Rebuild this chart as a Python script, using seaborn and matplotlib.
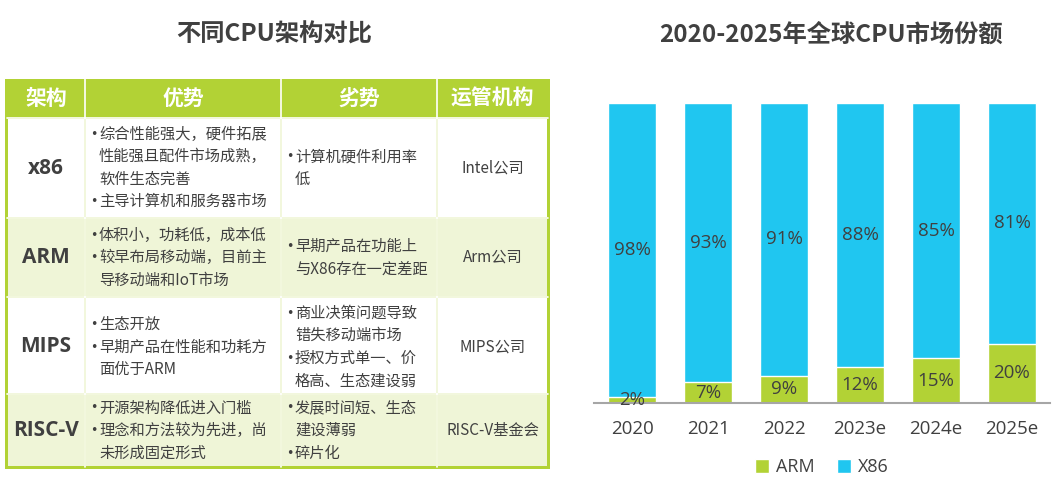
import matplotlib
matplotlib.use("Agg")
import matplotlib.pyplot as plt
from matplotlib.patches import Rectangle, Patch
import seaborn as sns
import pandas as pd

# data
years = ["2020", "2021", "2022", "2023e", "2024e", "2025e"]
arm = [2, 7, 9, 12, 15, 20]
x86 = [98, 93, 91, 88, 85, 81]

headers = ["架构", "优势", "劣势", "运管机构"]
archs = ["x86", "ARM", "MIPS", "RISC-V"]
pros = [
    [["综合性能强大，硬件拓展", "性能强且配件市场成熟，", "软件生态完善"], ["主导计算机和服务器市场"]],
    [["体积小，功耗低，成本低"], ["较早布局移动端，目前主", "导移动端和IoT市场"]],
    [["生态开放"], ["早期产品在性能和功耗方", "面优于ARM"]],
    [["开源架构降低进入门槛"], ["理念和方法较为先进，尚", "未形成固定形式"]],
]
cons = [
    [["计算机硬件利用率", "低"]],
    [["早期产品在功能上", "与X86存在一定差距"]],
    [["商业决策问题导致", "错失移动端市场"], ["授权方式单一、价", "格高、生态建设弱"]],
    [["发展时间短、生态", "建设薄弱"], ["碎片化"]],
]
orgs = ["Intel公司", "Arm公司", "MIPS公司", "RISC-V基金会"]

GREEN = "#B2D235"
LIGHT = "#EFF5D7"
BLUE = "#20C6F0"
TXT = "#404040"

sns.set_theme(style="white")
plt.rcParams["font.family"] = ["Noto Sans CJK SC", "DejaVu Sans"]
NUM = ["Open Sans", "Noto Sans CJK SC", "DejaVu Sans"]

fig = plt.figure(figsize=(10.58, 4.8), dpi=100)

# ---- left: table drawn in pixel space
ax_t = fig.add_axes([0, 0, 1, 1])
ax_t.set_xlim(0, 1058)
ax_t.set_ylim(480, 0)
ax_t.axis("off")

col_x = [7, 85, 281, 437, 548]
row_y = [79, 118, 218, 297, 394, 467]
lh = 22.5

ax_t.text(274, 35, "不同CPU架构对比", ha="center", va="center", fontsize=17.5,
          fontweight="bold", color=TXT)

# outer frame
ax_t.add_patch(Rectangle((col_x[0] - 2, row_y[0]), col_x[-1] - col_x[0] + 4,
                         row_y[-1] - row_y[0] + 2, facecolor=GREEN, edgecolor="none"))
for r in range(5):
    y0, y1 = row_y[r], row_y[r + 1]
    for c in range(4):
        x0, x1 = col_x[c], col_x[c + 1]
        if r == 0:
            fc = GREEN
        else:
            fc = "white" if r % 2 == 1 else LIGHT
        ax_t.add_patch(Rectangle((x0 + 0.8, y0 + 0.8), x1 - x0 - 1.6, y1 - y0 - 1.6,
                                 facecolor=fc, edgecolor="none"))
# white gaps between cells
for c in range(1, 4):
    ax_t.plot([col_x[c], col_x[c]], [row_y[0], row_y[-1]], color="white", lw=1.2)
for r in range(1, 5):
    ax_t.plot([col_x[0], col_x[-1]], [row_y[r], row_y[r]], color="white", lw=1.2)

for c, h in enumerate(headers):
    ax_t.text((col_x[c] + col_x[c + 1]) / 2, (row_y[0] + row_y[1]) / 2, h,
              ha="center", va="center", fontsize=15, fontweight="bold", color="white")


def bullets(items, x, yc):
    lines = []
    for it in items:
        for k, s in enumerate(it):
            lines.append((k == 0, s))
    n = len(lines)
    y = yc - (n - 1) / 2 * lh
    for first, s in lines:
        if first:
            ax_t.text(x, y, "•", ha="left", va="center", fontsize=9, color=TXT,
                      family=["DejaVu Sans"])
        ax_t.text(x + 9, y, s, ha="left", va="center", fontsize=11, color=TXT)
        y += lh


for r in range(4):
    yc = (row_y[r + 1] + row_y[r + 2]) / 2 + (1.5 if r == 2 else 0)
    ax_t.text((col_x[0] + col_x[1]) / 2, yc, archs[r], ha="center", va="center",
              fontsize=15, fontweight="bold", color=TXT, family=NUM)
    bullets(pros[r], col_x[1] + 5, yc)
    bullets(cons[r], col_x[2] + 5, yc)
    ax_t.text((col_x[3] + col_x[4]) / 2, yc, orgs[r], ha="center", va="center",
              fontsize=11, color=TXT)

ax_t.text(831, 35, "2020-2025年全球CPU市场份额", ha="center", va="center", fontsize=17.5,
          fontweight="bold", color=TXT)

# ---- right: stacked share bars
df = pd.DataFrame({"year": years, "ARM": arm, "X86": x86})
df["total"] = df["ARM"] + df["X86"]
df["arm_s"] = df["ARM"] / df["total"] * 100
df["top"] = 100.0

ax = fig.add_axes([594 / 1058, 77 / 480, 456 / 1058, 300 / 480])
sns.barplot(data=df, x="year", y="top", color=BLUE, saturation=1, width=0.62, ax=ax)
sns.barplot(data=df, x="year", y="arm_s", color=GREEN, saturation=1, width=0.62, ax=ax)
ax.set_xlim(-0.5, 5.5)
ax.set_ylim(0, 100)
ax.set_xlabel("")
ax.set_ylabel("")
ax.set_yticks([])
for s in ["top", "right", "left"]:
    ax.spines[s].set_visible(False)
ax.spines["bottom"].set_color("#A6A6A6")
ax.spines["bottom"].set_linewidth(1.5)
ax.tick_params(axis="x", length=0, pad=12, labelsize=13.5, labelcolor=TXT)
for lab in ax.get_xticklabels():
    lab.set_family(NUM)

for i, row in df.iterrows():
    ax.text(i, row["arm_s"] / 2, f"{row['ARM']}%", ha="center", va="center",
            fontsize=13.5, color=TXT, family=NUM)
    ax.text(i, (row["arm_s"] + 100) / 2, f"{row['X86']}%", ha="center", va="center",
            fontsize=13.5, color=TXT, family=NUM)

handles = [Patch(facecolor=GREEN, label="ARM"), Patch(facecolor=BLUE, label="X86")]
leg = ax.legend(handles=handles, loc="center", bbox_to_anchor=(0.5, -0.213),
                ncol=2, frameon=False, handlelength=0.8, handleheight=0.8,
                handletextpad=0.4, columnspacing=1.2, prop={"family": NUM, "size": 13})
for t in leg.get_texts():
    t.set_color(TXT)

fig.savefig("out.png", dpi=100)
plt.close(fig)
